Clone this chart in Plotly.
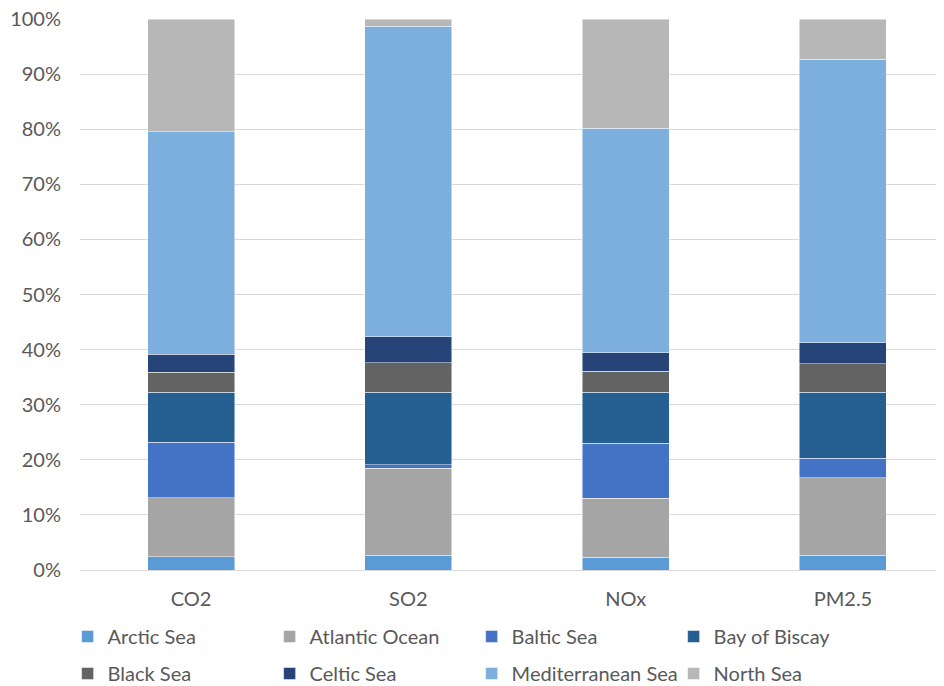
import plotly.graph_objects as go

categories = ["CO2", "SO2", "NOx", "PM2.5"]
series_names = ["Arctic Sea", "Atlantic Ocean", "Baltic Sea", "Bay of Biscay",
                "Black Sea", "Celtic Sea", "Mediterranean Sea", "North Sea"]

# Percent shares
arctic_sea = [2.4, 2.7, 2.3, 2.7]
atlantic_ocean = [10.7, 15.8, 10.7, 14.0]
baltic_sea = [10.1, 0.6, 10.0, 3.6]
bay_of_biscay = [9.1, 13.2, 9.3, 12.0]
black_sea = [3.6, 5.3, 3.8, 5.1]
celtic_sea = [3.3, 4.7, 3.3, 3.8]
mediterranean_sea = [40.3, 56.4, 40.8, 51.5]
north_sea = [20.5, 1.3, 19.8, 7.3]

tick_values = [0, 10, 20, 30, 40, 50, 60, 70, 80, 90, 100]
tick_labels = ["0%", "10%", "20%", "30%", "40%", "50%", "60%", "70%", "80%", "90%", "100%"]

values = [arctic_sea, atlantic_ocean, baltic_sea, bay_of_biscay,
          black_sea, celtic_sea, mediterranean_sea, north_sea]
colors = ["#5B9BD5", "#A5A5A5", "#4472C4", "#255E91",
          "#636363", "#264478", "#7CAFDD", "#B7B7B7"]

FONT = "Lato, Open Sans, sans-serif"

fig = go.Figure()
for i, (name, vals, col) in enumerate(zip(series_names, values, colors)):
    fig.add_trace(go.Bar(
        name=name, x=categories, y=vals,
        marker=dict(color=col, line=dict(color="rgba(255,255,255,0.6)", width=0.8)),
        width=0.4,
        legend="legend" if i < 4 else "legend2",
    ))

leg_common = dict(
    orientation="h", xanchor="left", yanchor="top",
    xref="container", yref="container",
    entrywidth=157, entrywidthmode="pixels",
    font=dict(family=FONT, size=20, color="#595959"),
    traceorder="normal", bgcolor="rgba(0,0,0,0)",
)

fig.update_layout(
    barmode="stack",
    barnorm="percent",
    width=936, height=678,
    margin=dict(l=72, r=0, t=11, b=116),
    paper_bgcolor="white", plot_bgcolor="white",
    font=dict(family=FONT, size=20, color="#595959"),
    showlegend=True,
    legend=dict(x=0.0637, y=0.1018, **leg_common),
    legend2=dict(x=0.0637, y=0.0472, **leg_common),
    xaxis=dict(
        range=[-0.511, 3.465], showgrid=False, ticks="", automargin=False,
        showline=True, linecolor="#D9D9D9", linewidth=1,
        ticklabelstandoff=11, tickfont=dict(size=20),
    ),
    yaxis=dict(
        range=[0, 100], tickvals=tick_values, ticktext=tick_labels,
        showgrid=True, gridcolor="#D9D9D9", gridwidth=1, automargin=False,
        zeroline=False, ticks="", ticklabelstandoff=18, tickfont=dict(size=20),
        ticklabeloverflow="allow",
    ),
)

fig.write_html("out.html")
